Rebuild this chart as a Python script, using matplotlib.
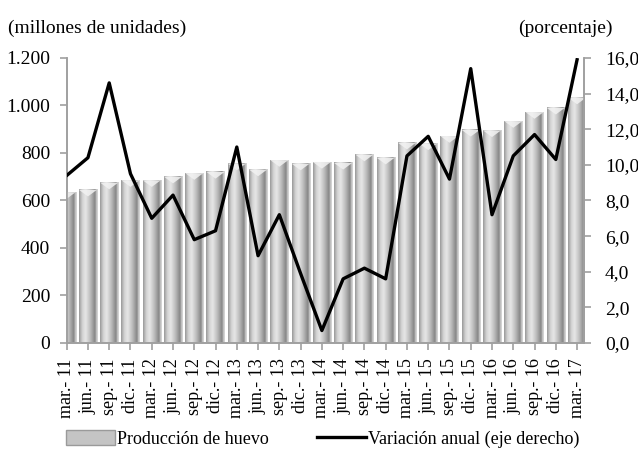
import matplotlib
matplotlib.use("Agg")
import matplotlib.pyplot as plt
import numpy as np
from matplotlib.colors import LinearSegmentedColormap
from matplotlib.patches import Patch, Polygon
from matplotlib.lines import Line2D
from matplotlib.ticker import FuncFormatter

plt.rcParams['font.family'] = ['Liberation Serif', 'DejaVu Serif']
plt.rcParams['font.size'] = 14

periodos = ['mar.- 11', 'jun.- 11', 'sep.- 11', 'dic.- 11',
            'mar.- 12', 'jun.- 12', 'sep.- 12', 'dic.- 12',
            'mar.- 13', 'jun.- 13', 'sep.- 13', 'dic.- 13',
            'mar.- 14', 'jun.- 14', 'sep.- 14', 'dic.- 14',
            'mar.- 15', 'jun.- 15', 'sep.- 15', 'dic.- 15',
            'mar.- 16', 'jun.- 16', 'sep.- 16', 'dic.- 16',
            'mar.- 17']

produccion = [635, 645, 675, 685, 685, 700, 715, 720, 755, 730, 770, 755,
              762, 758, 793, 780, 843, 840, 871, 897, 895, 934, 972, 990,
              1033]

variacion = [9.4, 10.4, 14.6, 9.5, 7.0, 8.3, 5.8, 6.3, 11.0, 4.9, 7.2, 3.9,
             0.7, 3.6, 4.2, 3.6, 10.5, 11.6, 9.2, 15.4, 7.2, 10.5, 11.7, 10.3,
             15.9]

axis_gray = '#a0a0a0'

bar_cmap = LinearSegmentedColormap.from_list('cyl', [
    (0.0, '#9a9a9a'), (0.18, '#d4d4d4'), (0.35, '#e6e6e6'),
    (0.6, '#bdbdbd'), (0.85, '#858585'), (0.93, '#c4c4c4'), (1.0, '#d8d8d8')])

fig = plt.figure(figsize=(6.38, 4.51), dpi=100)
ax = fig.add_axes([0.1045, 0.2395, 0.811, 0.632])

x = np.arange(len(periodos))
width = 0.85
bars = ax.bar(x, produccion, width=width, color='#c8c8c8', edgecolor='none', zorder=1)

grad = np.linspace(0, 1, 64).reshape(1, -1)
for b in bars:
    x0, w, h = b.get_x(), b.get_width(), b.get_height()
    ax.imshow(grad, extent=[x0, x0 + w, 0, h], aspect='auto', cmap=bar_cmap,
              zorder=2, interpolation='bilinear')
    # chevron top
    tri = Polygon([[x0, h], [x0 + w, h], [x0 + w / 2, h - 28]], closed=True,
                  facecolor='#f2f2f2', edgecolor='none', alpha=0.85, zorder=3)
    ax.add_patch(tri)

ax.set_xlim(0, 24.33)
ax.set_ylim(0, 1200)
ax.set_yticks(np.arange(0, 1201, 200))
ax.yaxis.set_major_formatter(FuncFormatter(lambda v, p: f'{int(v):,}'.replace(',', '.')))
ax.set_xticks(x)
ax.set_xticklabels(periodos, rotation=90, fontsize=13)

ax.spines['top'].set_visible(False)
for s in ['left', 'bottom', 'right']:
    ax.spines[s].set_color(axis_gray)
    ax.spines[s].set_linewidth(1.2)
ax.tick_params(axis='both', color=axis_gray, length=5, width=1.2, direction='out')
ax.tick_params(axis='y', pad=7)
ax.tick_params(axis='x', pad=6)

ax2 = ax.twinx()
ax2.plot(x, variacion, color='black', linewidth=2.4, zorder=5)
ax2.set_ylim(0, 16)
ax2.set_xlim(0, 24.33)
ax2.set_yticks(np.arange(0, 16.1, 2))
ax2.yaxis.set_major_formatter(FuncFormatter(lambda v, p: f'{v:.1f}'.replace('.', ',')))
ax2.spines['top'].set_visible(False)
for s in ['left', 'bottom', 'right']:
    ax2.spines[s].set_color(axis_gray)
    ax2.spines[s].set_linewidth(1.2)
ax2.tick_params(axis='y', color=axis_gray, length=5, width=1.2, pad=10)

fig.text(8 / 638, 1 - 28 / 451, '(millones de unidades)', ha='left', va='center')
fig.text(613 / 638, 1 - 28 / 451, '(porcentaje)', ha='right', va='center')

handles = [Patch(facecolor='#c4c4c4', edgecolor='#9a9a9a', label='Producción de huevo'),
           Line2D([0], [0], color='black', linewidth=2.4, label='Variación anual (eje derecho)')]
fig.legend(handles=handles, loc='center', bbox_to_anchor=(0.5055, 1 - 439 / 451), ncol=2,
           frameon=False, fontsize=13, handlelength=2.7, handleheight=0.9,
           handletextpad=0.1, columnspacing=2.7, borderpad=0, borderaxespad=0)

fig.savefig('out.png', dpi=100)
